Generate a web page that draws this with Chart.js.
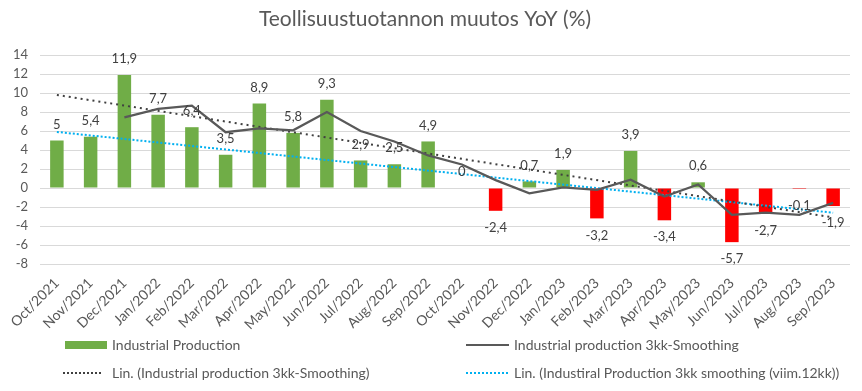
<!DOCTYPE html>
<html>
<head>
<meta charset="utf-8">
<script src="https://cdn.jsdelivr.net/npm/chart.js@4/dist/chart.umd.min.js"></script>
<style>
  html, body { margin: 0; padding: 0; background: #fff; }
  #wrap { position: relative; width: 862px; height: 391px; font-family: Lato, "Open Sans", sans-serif; }
  #c { position: absolute; left: 0; top: 0; }
  .lg { position: absolute; font-size: 14px; color: #595959; line-height: 16px; white-space: nowrap; }
  .mk { position: absolute; }
</style>
</head>
<body>
<div id="wrap">
  <canvas id="c" width="862" height="391"></canvas>
  <div class="mk" style="left:65px; top:341px; width:42px; height:8px; background:#70AD47;"></div>
  <div class="lg" style="left:112px; top:337px;">Industrial Production</div>
  <div class="mk" style="left:466px; top:344px; width:43px; height:2px; background:#595959;"></div>
  <div class="lg" style="left:514px; top:337px;">Industrial production 3kk-Smoothing</div>
  <div class="mk" style="left:63px; top:372px; width:38px; height:0; border-top:2px dotted #404040;"></div>
  <div class="lg" style="left:112px; top:365px;">Lin. (Industrial production 3kk-Smoothing)</div>
  <div class="mk" style="left:466px; top:372px; width:42px; height:0; border-top:2px dotted #00B0F0;"></div>
  <div class="lg" style="left:514px; top:365px;">Lin. (Industiral Production 3kk smoothing (viim.12kk))</div>
</div>
<script>
const categories = ["Oct/2021","Nov/2021","Dec/2021","Jan/2022","Feb/2022","Mar/2022","Apr/2022","May/2022","Jun/2022","Jul/2022","Aug/2022","Sep/2022","Oct/2022","Nov/2022","Dec/2022","Jan/2023","Feb/2023","Mar/2023","Apr/2023","May/2023","Jun/2023","Jul/2023","Aug/2023","Sep/2023"];
const production = [5, 5.4, 11.9, 7.7, 6.4, 3.5, 8.9, 5.8, 9.3, 2.9, 2.5, 4.9, 0, -2.4, 0.7, 1.9, -3.2, 3.9, -3.4, 0.6, -5.7, -2.7, -0.1, -1.9];
const smoothing = [null, null, 7.43, 8.33, 8.67, 5.87, 6.27, 6.07, 8.0, 6.0, 4.9, 3.43, 2.47, 0.83, -0.57, 0.07, -0.2, 0.87, -0.9, 0.37, -2.83, -2.6, -2.83, -1.57];
const trendAll = [9.8, null, null, null, null, null, null, null, null, null, null, null, null, null, null, null, null, null, null, null, null, null, null, -3.1];
const trend12 = [5.9, null, null, null, null, null, null, null, null, null, null, null, null, null, null, null, null, null, null, null, null, null, null, -2.6];
const yTicks = { min: -8, max: 14, step: 2 };

const barColors = production.map(v => v < 0 ? '#FF0000' : '#70AD47');

const labelPlugin = {
  id: 'barLabels',
  afterDatasetsDraw(chart) {
    const ctx = chart.ctx;
    const meta = chart.getDatasetMeta(0);
    ctx.save();
    ctx.font = '13px Lato, "Open Sans", sans-serif';
    ctx.fillStyle = '#404040';
    ctx.textAlign = 'center';
    ctx.textBaseline = 'middle';
    meta.data.forEach((el, i) => {
      const v = production[i];
      const txt = String(v).replace('.', ',');
      const y = v < 0 ? el.y + 17 : el.y - 16;
      ctx.fillText(txt, el.x, y);
    });
    ctx.restore();
  }
};

new Chart(document.getElementById('c'), {
  data: {
    labels: categories,
    datasets: [
      { type: 'bar', label: 'Industrial Production', data: production, backgroundColor: barColors,
        categoryPercentage: 1.0, barPercentage: 0.4, order: 4 },
      { type: 'line', label: 'Industrial production 3kk-Smoothing', data: smoothing, borderColor: '#595959',
        borderWidth: 2.25, pointRadius: 0, tension: 0, spanGaps: false, order: 1 },
      { type: 'line', label: 'Lin. (Industrial production 3kk-Smoothing)', data: trendAll, borderColor: '#404040',
        borderWidth: 2, borderDash: [2, 4], pointRadius: 0, spanGaps: true, order: 2 },
      { type: 'line', label: 'Lin. (Industiral Production 3kk smoothing (viim.12kk))', data: trend12, borderColor: '#00B0F0',
        borderWidth: 2, borderDash: [2, 2], pointRadius: 0, spanGaps: true, order: 3 }
    ]
  },
  options: {
    responsive: false,
    animation: false,
    devicePixelRatio: 1,
    layout: { padding: { left: 0, right: 12, top: 0, bottom: 56 } },
    plugins: {
      legend: { display: false },
      tooltip: { enabled: false },
      title: { display: true, text: 'Teollisuustuotannon muutos YoY (%)', color: '#595959',
        font: { family: 'Lato, "Open Sans", sans-serif', size: 21, weight: 'normal' },
        padding: { top: 7, bottom: 22.8 } }
    },
    scales: {
      x: {
        grid: { display: false },
        border: { display: false },
        ticks: { color: '#595959', font: { family: 'Lato, "Open Sans", sans-serif', size: 14 },
          minRotation: 45, maxRotation: 45, autoSkip: false, padding: 3 },
        afterFit(s) { s.height = 71; }
      },
      y: {
        min: yTicks.min, max: yTicks.max,
        grid: { color: '#D9D9D9', drawTicks: false, lineWidth: 1 },
        border: { display: false },
        ticks: { stepSize: yTicks.step, color: '#595959', font: { family: 'Lato, "Open Sans", sans-serif', size: 13 }, padding: 12 },
        afterFit(s) { s.width = 40; }
      }
    }
  },
  plugins: [labelPlugin]
});
</script>
</body>
</html>
